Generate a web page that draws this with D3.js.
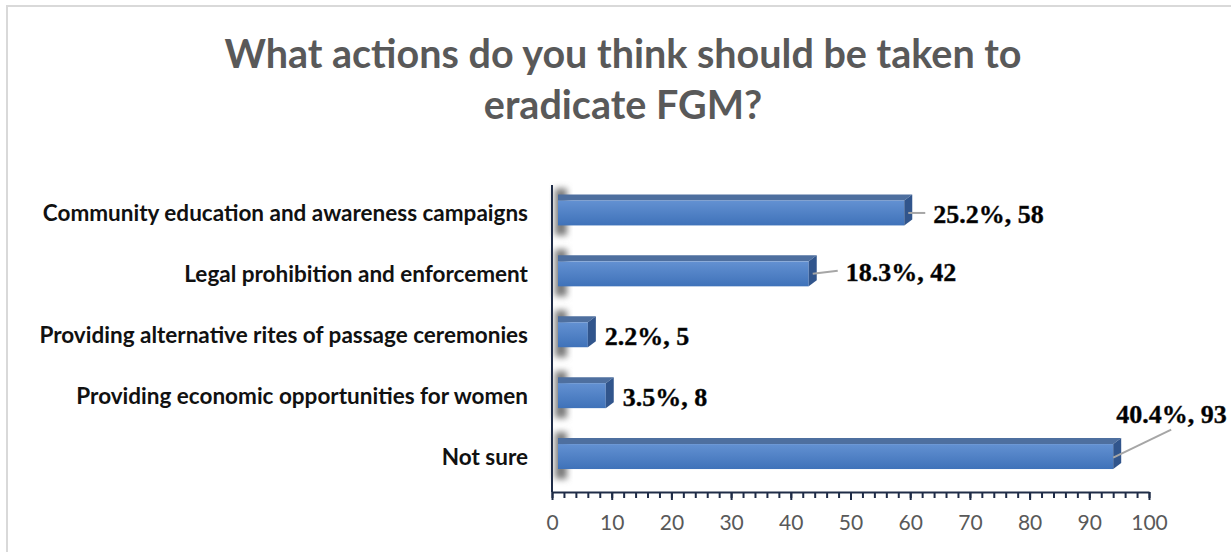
<!DOCTYPE html>
<html>
<head>
<meta charset="utf-8">
<script src="https://cdn.jsdelivr.net/npm/d3@7"></script>
<style>
  body { margin: 0; background: #fff; }
  #chart { width: 1231px; height: 552px; }
</style>
</head>
<body>
<div id="chart"></div>
<script>
// data
var categories = [
  "Community education and awareness campaigns",
  "Legal prohibition and enforcement",
  "Providing alternative rites of passage ceremonies",
  "Providing economic opportunities for women",
  "Not sure"
];
var counts = [58, 42, 5, 8, 93];
var percents = ["25.2%", "18.3%", "2.2%", "3.5%", "40.4%"];
var xTicks = [0, 10, 20, 30, 40, 50, 60, 70, 80, 90, 100];
var titleLines = ["What actions do you think should be taken to", "eradicate FGM?"];

// label placement (layout only)
var labelNudge = [
  { dx: 35, dy: 0, leader: "flat" },
  { dx: 43, dy: -3, leader: "flat" },
  { dx: 23, dy: 0, leader: null },
  { dx: 23, dy: 0, leader: null },
  { dx: 9, dy: -44, leader: "diag" }
];

var rows = categories.map(function(c, i) {
  return { cat: c, value: counts[i], pct: percents[i], nudge: labelNudge[i] };
});

var chartDiv = document.getElementById("chart");
var width = 1231, height = 552;
var svg = d3.select(chartDiv).append("svg")
    .attr("width", width)
    .attr("height", height);

var defs = svg.append("defs");
var grad = defs.append("linearGradient")
    .attr("id", "front").attr("x1", 0).attr("y1", 0).attr("x2", 0).attr("y2", 1);
grad.append("stop").attr("offset", "0%").attr("stop-color", "#6391d2");
grad.append("stop").attr("offset", "100%").attr("stop-color", "#3f72b9");

defs.append("filter").attr("id", "blur")
    .attr("x", "-50%").attr("y", "-50%").attr("width", "200%").attr("height", "200%")
  .append("feGaussianBlur").attr("stdDeviation", 3);

// chart frame
svg.append("rect")
    .attr("x", 7).attr("y", 6)
    .attr("width", 1240).attr("height", 560)
    .attr("fill", "none")
    .attr("stroke", "#d9d9d9")
    .attr("stroke-width", 2);

// title
svg.append("g").selectAll("text")
    .data(titleLines)
    .enter().append("text")
    .attr("x", 623)
    .attr("y", function(d, i) { return 68 + i * 51; })
    .attr("text-anchor", "middle")
    .attr("font-family", "Lato, 'Open Sans', sans-serif")
    .attr("font-weight", "bold")
    .attr("font-size", 39.5)
    .attr("fill", "#595959")
    .text(function(d) { return d; });

var x = d3.scaleLinear().domain([0, 100]).range([552, 1149]);
var y = d3.scaleBand().domain(categories).range([182.5, 487]).paddingInner(0.59).paddingOuter(0.295);

var dx = 6, depth = 8, rise = 6;

// wall shadows behind bars
svg.append("g").selectAll("rect")
    .data(categories)
    .enter().append("rect")
    .attr("x", 555)
    .attr("y", function(d) { return y(d) - 12; })
    .attr("width", 12)
    .attr("height", y.bandwidth() + 22)
    .attr("fill", "#7a7a7a")
    .attr("filter", "url(#blur)");

// axes
svg.append("line")
    .attr("x1", 552).attr("x2", 552)
    .attr("y1", 185).attr("y2", 492)
    .attr("stroke", "#1f2c47").attr("stroke-width", 2);

var minor = svg.append("g")
    .attr("transform", "translate(0,492)")
    .call(d3.axisBottom(x).tickValues(d3.range(0, 101, 2)).tickSize(6).tickFormat(""));
minor.select(".domain").remove();
minor.selectAll("line").attr("stroke", "#1f2c47").attr("stroke-width", 2);

var major = svg.append("g")
    .attr("transform", "translate(0,492)")
    .call(d3.axisBottom(x).tickValues(xTicks).tickSize(8).tickSizeOuter(0).tickPadding(15));
major.select(".domain").attr("stroke", "#1f2c47").attr("stroke-width", 2);
major.selectAll("line").attr("stroke", "#1f2c47").attr("stroke-width", 2);
major.selectAll("text")
    .attr("font-family", "Lato, 'Open Sans', sans-serif")
    .attr("font-size", 21)
    .attr("fill", "#595959");

// category labels
svg.append("g").selectAll("text")
    .data(categories)
    .enter().append("text")
    .attr("x", 528)
    .attr("y", function(d) { return y(d) + y.bandwidth() / 2 + 8; })
    .attr("text-anchor", "end")
    .attr("font-family", "Lato, 'Open Sans', sans-serif")
    .attr("font-weight", "bold")
    .attr("font-size", 22.5)
    .attr("fill", "#111")
    .text(function(d) { return d; });

// 3d bars
var bars = svg.append("g").selectAll("g")
    .data(rows)
    .enter().append("g");

bars.append("path")
    .attr("fill", "#4e6f9f")
    .attr("d", function(d) {
      var y0 = y(d.cat), x0 = x(0) + dx, x1 = x(d.value) + dx;
      return "M" + x0 + "," + y0 + "L" + x1 + "," + y0 + "L" + (x1 + depth) + "," + (y0 - rise) +
             "L" + x0 + "," + (y0 - rise) + "Z";
    });

bars.append("rect")
    .attr("x", x(0) + dx)
    .attr("y", function(d) { return y(d.cat); })
    .attr("width", function(d) { return x(d.value) - x(0); })
    .attr("height", y.bandwidth())
    .attr("fill", "url(#front)");

bars.append("path")
    .attr("fill", "#31558c")
    .attr("d", function(d) {
      var y0 = y(d.cat), y1 = y0 + y.bandwidth(), x1 = x(d.value) + dx;
      return "M" + x1 + "," + y0 + "L" + (x1 + depth) + "," + (y0 - rise) + "L" + (x1 + depth) + "," + (y1 - rise) +
             "L" + x1 + "," + y1 + "Z";
    });

// leader lines
bars.filter(function(d) { return d.nudge.leader; })
  .append("path")
    .attr("fill", "none")
    .attr("stroke", "#a6a6a6")
    .attr("stroke-width", 2)
    .attr("d", function(d) {
      var cy = y(d.cat) + y.bandwidth() / 2, n = d.nudge, xe = x(d.value);
      if (n.leader == "flat") {
        return "M" + (xe + dx + 4) + "," + cy + "L" + (xe + n.dx - 8) + "," + (cy + n.dy);
      }
      return "M" + (xe + dx) + "," + (cy + 1) + "L" + (xe + 64) + "," + (cy - 27);
    });

// data labels
bars.append("text")
    .attr("x", function(d) { return x(d.value) + d.nudge.dx; })
    .attr("y", function(d) { return y(d.cat) + y.bandwidth() / 2 + d.nudge.dy + 10; })
    .attr("font-family", "'Liberation Serif', 'Times New Roman', serif")
    .attr("font-weight", "bold")
    .attr("font-size", 26)
    .attr("fill", "#000")
    .attr("stroke", "#222")
    .attr("stroke-width", 0.4)
    .text(function(d) { return d.pct + ", " + d.value; });
</script>
</body>
</html>
